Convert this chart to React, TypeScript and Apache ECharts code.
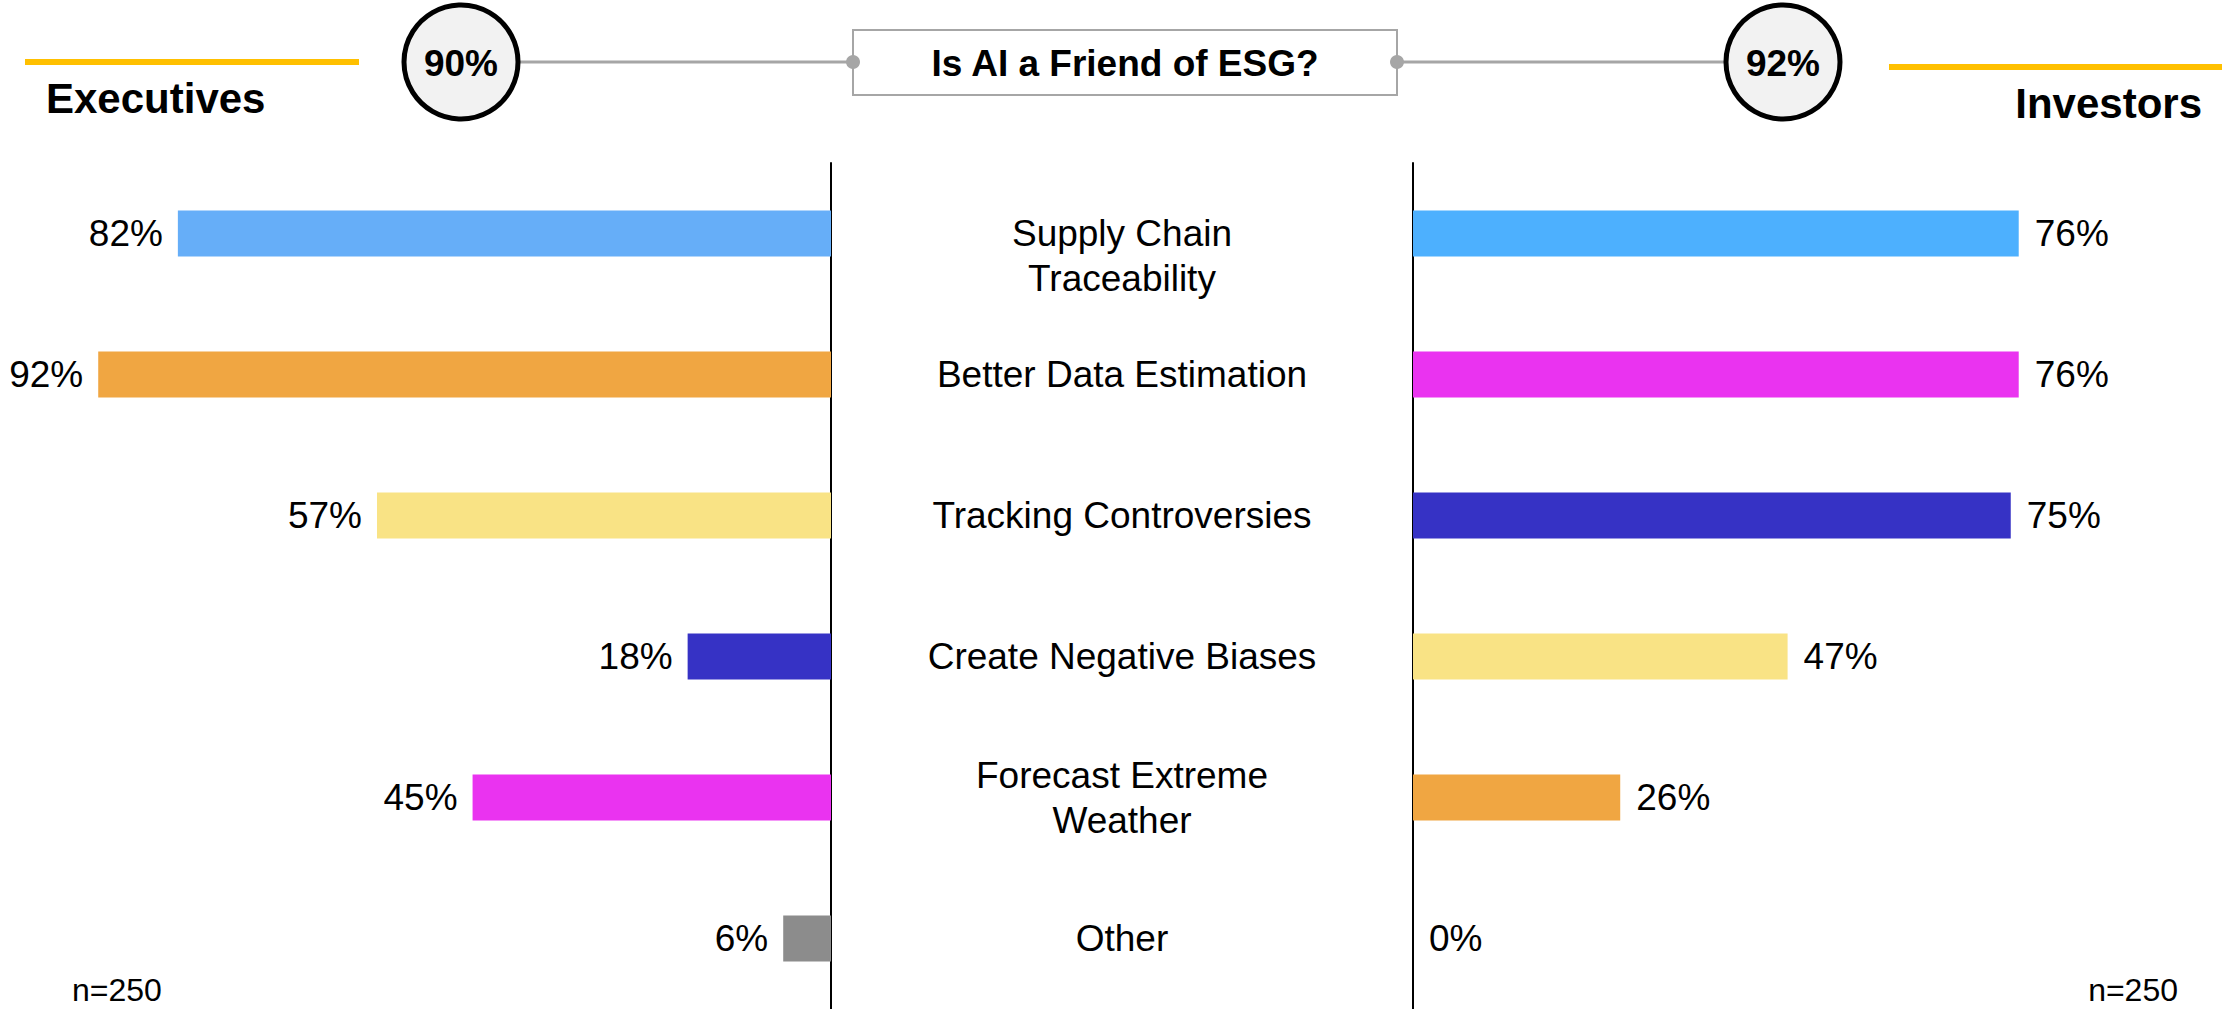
import React, { useEffect, useRef } from "react";
import * as echarts from "echarts";

const categories = [
  "Supply Chain Traceability",
  "Better Data Estimation",
  "Tracking Controversies",
  "Create Negative Biases",
  "Forecast Extreme Weather",
  "Other",
];
const categoryLabels = [
  " \nSupply Chain\nTraceability",
  "Better Data Estimation",
  "Tracking Controversies",
  "Create Negative Biases",
  "Forecast Extreme\nWeather",
  "Other",
];
const executivesValues = [82, 92, 57, 18, 45, 6];
const investorsValues = [76, 76, 75, 47, 26, 0];
const executivesColors = ["#66aef8", "#f0a642", "#f9e385", "#3632c5", "#ea33f0", "#8c8c8c"];
const investorsColors = ["#4db0fe", "#ea33f0", "#3632c5", "#f9e385", "#f0a642", "#8c8c8c"];
const titleText = "Is AI a Friend of ESG?";
const executivesLabel = "Executives";
const investorsLabel = "Investors";
const executivesTotal = "90%";
const investorsTotal = "92%";
const sampleNote = "n=250";

const FONT = "'Liberation Sans', Arial, Helvetica, sans-serif";

export default function App() {
  const ref = useRef<HTMLDivElement>(null);
  useEffect(() => {
    if (!ref.current) return;
    const chart = echarts.init(ref.current, undefined, { renderer: "svg" });
    const grey = "#a6a6a6";
    const option: any = {
      animation: false,
      backgroundColor: "#ffffff",
      grid: [
        { left: 34.5, width: 796.5, top: 163, height: 846, containLabel: false },
        { left: 1413, width: 797, top: 163, height: 846, containLabel: false },
      ],
      xAxis: [
        { gridIndex: 0, type: "value", min: 0, max: 100, inverse: true, show: false },
        { gridIndex: 1, type: "value", min: 0, max: 100, show: false },
      ],
      yAxis: [
        {
          gridIndex: 0,
          type: "category",
          data: categories,
          inverse: true,
          position: "right",
          axisLine: { show: true, onZero: false, lineStyle: { color: "#000", width: 2 } },
          axisTick: { show: false },
          splitLine: { show: false },
          axisLabel: {
            show: true,
            margin: 291,
            align: "center",
            verticalAlign: "middle",
            fontFamily: FONT,
            fontSize: 37,
            lineHeight: 45,
            color: "#000",
            formatter: (_v: string, i: number) => categoryLabels[i],
          },
        },
        {
          gridIndex: 1,
          type: "category",
          data: categories,
          inverse: true,
          position: "left",
          axisLine: { show: true, onZero: false, lineStyle: { color: "#000", width: 2 } },
          axisTick: { show: false },
          splitLine: { show: false },
          axisLabel: { show: false },
        },
      ],
      series: [
        {
          type: "bar",
          xAxisIndex: 0,
          yAxisIndex: 0,
          barWidth: 46,
          data: executivesValues.map((v, i) => ({ value: v, itemStyle: { color: executivesColors[i] } })),
          label: {
            show: true,
            position: "left",
            distance: 15,
            fontFamily: FONT,
            fontSize: 37,
            color: "#000",
            formatter: (p: any) => p.value + "%",
          },
        },
        {
          type: "bar",
          xAxisIndex: 1,
          yAxisIndex: 1,
          barWidth: 46,
          data: investorsValues.map((v, i) => ({ value: v, itemStyle: { color: investorsColors[i] } })),
          label: {
            show: true,
            position: "right",
            distance: 16,
            fontFamily: FONT,
            fontSize: 37,
            color: "#000",
            formatter: (p: any) => p.value + "%",
          },
        },
      ],
      graphic: [
        { type: "rect", shape: { x: 25, y: 59, width: 334, height: 6 }, style: { fill: "#ffc000" } },
        { type: "rect", shape: { x: 1889, y: 64, width: 333, height: 6 }, style: { fill: "#ffc000" } },
        {
          type: "text",
          x: 46,
          y: 98,
          style: { text: executivesLabel, font: `bold 42px ${FONT}`, fill: "#000", textAlign: "left", textVerticalAlign: "middle" },
        },
        {
          type: "text",
          x: 2202,
          y: 103,
          style: { text: investorsLabel, font: `bold 42px ${FONT}`, fill: "#000", textAlign: "right", textVerticalAlign: "middle" },
        },
        { type: "line", shape: { x1: 520, y1: 62, x2: 853, y2: 62 }, style: { stroke: grey, lineWidth: 3 } },
        { type: "line", shape: { x1: 1397, y1: 62, x2: 1724, y2: 62 }, style: { stroke: grey, lineWidth: 3 } },
        { type: "rect", shape: { x: 853, y: 30, width: 544, height: 65 }, style: { fill: "#fff", stroke: grey, lineWidth: 2 } },
        {
          type: "text",
          x: 1125,
          y: 63,
          style: { text: titleText, font: `bold 37px ${FONT}`, fill: "#000", textAlign: "center", textVerticalAlign: "middle" },
        },
        { type: "circle", shape: { cx: 853, cy: 62, r: 7 }, style: { fill: grey } },
        { type: "circle", shape: { cx: 1397, cy: 62, r: 7 }, style: { fill: grey } },
        { type: "circle", shape: { cx: 461, cy: 62, r: 57 }, style: { fill: "#f2f2f2", stroke: "#000", lineWidth: 5 } },
        { type: "circle", shape: { cx: 1783, cy: 62, r: 57 }, style: { fill: "#f2f2f2", stroke: "#000", lineWidth: 5 } },
        {
          type: "text",
          x: 461,
          y: 63,
          style: { text: executivesTotal, font: `bold 37px ${FONT}`, fill: "#000", textAlign: "center", textVerticalAlign: "middle" },
        },
        {
          type: "text",
          x: 1783,
          y: 63,
          style: { text: investorsTotal, font: `bold 37px ${FONT}`, fill: "#000", textAlign: "center", textVerticalAlign: "middle" },
        },
        {
          type: "text",
          x: 72,
          y: 990,
          style: { text: sampleNote, font: `32px ${FONT}`, fill: "#000", textAlign: "left", textVerticalAlign: "middle" },
        },
        {
          type: "text",
          x: 2178,
          y: 990,
          style: { text: sampleNote, font: `32px ${FONT}`, fill: "#000", textAlign: "right", textVerticalAlign: "middle" },
        },
      ],
    };
    chart.setOption(option);
    return () => chart.dispose();
  }, []);
  return (
    <div
      ref={ref}
      style={{ position: "fixed", left: 0, top: 0, width: 2222, height: 1009, background: "#fff" }}
    />
  );
}
